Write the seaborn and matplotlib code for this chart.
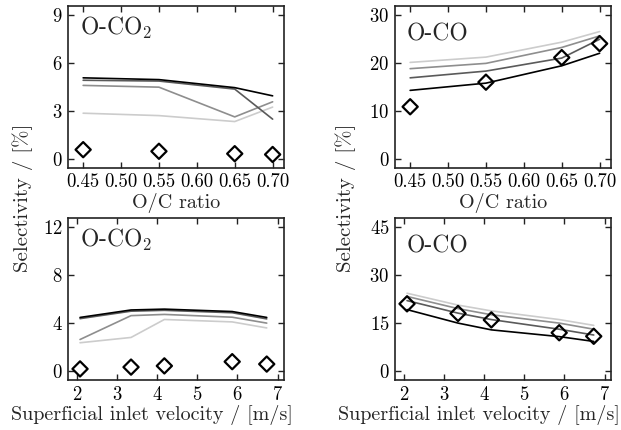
import matplotlib
matplotlib.use("Agg")
import matplotlib.pyplot as plt
import numpy as np
import pandas as pd
import seaborn as sns

# O/C ratio sweep
oc_ratio = [0.45, 0.55, 0.65, 0.70]
co2_oc_m1 = [5.07, 4.96, 4.46, 3.95]
co2_oc_m2 = [4.92, 4.87, 4.37, 2.50]
co2_oc_m3 = [4.60, 4.49, 2.64, 3.58]
co2_oc_m4 = [2.87, 2.72, 2.35, 3.25]
co2_oc_exp = [0.6, 0.5, 0.35, 0.3]

co_oc_m1 = [14.3, 15.8, 19.4, 22.0]
co_oc_m2 = [16.9, 18.3, 21.0, 24.9]
co_oc_m3 = [18.8, 19.9, 23.2, 25.6]
co_oc_m4 = [20.1, 21.2, 24.3, 26.5]
co_oc_exp = [10.9, 16.0, 21.1, 24.0]

# superficial inlet velocity sweep
velocity = [2.08, 3.35, 4.18, 5.87, 6.73]
co2_v_m1 = [4.47, 5.09, 5.16, 4.96, 4.47]
co2_v_m2 = [4.37, 4.99, 5.06, 4.86, 4.35]
co2_v_m3 = [2.64, 4.62, 4.72, 4.49, 4.00]
co2_v_m4 = [2.37, 2.81, 4.30, 4.10, 3.60]
co2_v_exp = [0.2, 0.35, 0.45, 0.8, 0.6]

co_v_m1 = [19.2, 15.0, 12.9, 10.8, 9.3]
co_v_m2 = [22.0, 18.1, 16.1, 13.1, 11.3]
co_v_m3 = [23.3, 19.5, 17.6, 15.0, 13.1]
co_v_m4 = [24.3, 20.6, 18.8, 16.1, 14.3]
co_v_exp = [21.0, 18.0, 16.0, 12.0, 10.9]

models = ["m1", "m2", "m3", "m4"]
palette = {"m1": "#000000", "m2": "#5a5a5a", "m3": "#8e8e8e", "m4": "#cccccc"}


def long_frame(x, series):
    rows = []
    for name, vals in zip(models, series):
        for xi, yi in zip(x, vals):
            rows.append({"x": xi, "y": yi, "model": name})
    return pd.DataFrame(rows)


sns.set_theme(style="ticks")
plt.rcParams["font.family"] = "serif"
plt.rcParams["font.serif"] = ["cmr10"]
plt.rcParams["mathtext.fontset"] = "cm"
plt.rcParams["axes.unicode_minus"] = False
plt.rcParams["axes.formatter.use_mathtext"] = True

fig = plt.figure(figsize=(6.21, 4.30), dpi=100)
W, H = 621.0, 430.0
boxes = [(68, 168), (395, 168), (68, 380), (395, 380)]
axes = [fig.add_axes([l / W, (H - b) / H, 216 / W, 162 / H]) for l, b in boxes]

panels = [
    (oc_ratio, [co2_oc_m1, co2_oc_m2, co2_oc_m3, co2_oc_m4], co2_oc_exp, "O-CO$_2$", 9, [0, 3, 6, 9]),
    (oc_ratio, [co_oc_m1, co_oc_m2, co_oc_m3, co_oc_m4], co_oc_exp, "O-CO", 30, [0, 10, 20, 30]),
    (velocity, [co2_v_m1, co2_v_m2, co2_v_m3, co2_v_m4], co2_v_exp, "O-CO$_2$", 12, [0, 4, 8, 12]),
    (velocity, [co_v_m1, co_v_m2, co_v_m3, co_v_m4], co_v_exp, "O-CO", 45, [0, 15, 30, 45]),
]

for i, (ax, (x, series, exp, title, top, yticks)) in enumerate(zip(axes, panels)):
    df = long_frame(x, series)
    sns.lineplot(data=df, x="x", y="y", hue="model", hue_order=models[::-1],
                 palette=palette, linewidth=1.2, legend=False, ax=ax)
    sns.scatterplot(x=x, y=exp, marker="D", s=60, facecolor="none",
                    edgecolor="black", linewidth=1.6, zorder=5, ax=ax)
    ax.set_ylim(-0.06 * top, 1.06 * top)
    ax.set_yticks(yticks)
    if i < 2:
        ax.set_xlim(0.43, 0.715)
        ax.set_xticks([0.45, 0.50, 0.55, 0.60, 0.65, 0.70])
        ax.set_xticklabels(["0.45", "0.50", "0.55", "0.60", "0.65", "0.70"])
        ax.set_xlabel("O/C ratio", fontsize=14.5)
        ax.xaxis.set_label_coords(0.5, -0.155)
    else:
        ax.set_xlim(1.78, 7.16)
        ax.set_xticks([2, 3, 4, 5, 6, 7])
        ax.set_xlabel("Superficial inlet velocity / [m/s]", fontsize=14.5)
        ax.xaxis.set_label_coords(0.387, -0.155)
    ax.set_ylabel("")
    ax.tick_params(direction="in", top=True, right=True, length=4, width=1,
                   labelsize=13.5, pad=4, colors="#222222", labelcolor="black")
    for sp in ax.spines.values():
        sp.set_linewidth(1.2)
        sp.set_color("#222222")
    ty = 0.82 if "_2" in title else 0.787
    ax.text(0.054, ty, title, transform=ax.transAxes, fontsize=17,
            va="baseline", ha="left")

fig.text(0.036, 0.54, "Selectivity / [%]", rotation=90, fontsize=15,
         ha="center", va="center")
fig.text(0.557, 0.54, "Selectivity / [%]", rotation=90, fontsize=15,
         ha="center", va="center")

fig.savefig("out.png", dpi=100)
